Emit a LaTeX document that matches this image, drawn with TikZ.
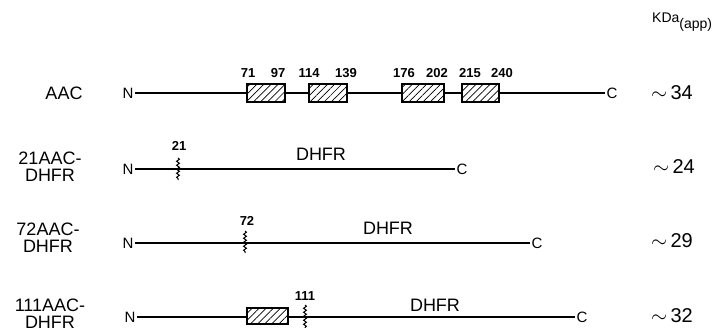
\documentclass[tikz,border=0pt]{standalone}
\usepackage{fontspec}
\setmainfont{Liberation Sans}
\usetikzlibrary{patterns.meta,decorations.pathmorphing}
\begin{document}
\begin{tikzpicture}[x=1pt,y=-1pt,
  every node/.style={inner sep=1.5pt},
  endlab/.style={font=\fontsize{15}{15}\selectfont},
  chainline/.style={line width=1.4pt},
  hbox/.style={draw, line width=1.2pt, minimum height=18pt, inner sep=0pt,
    preaction={fill=white}, pattern={Lines[angle=45,distance=5pt,line width=0.7pt]}},
  num/.style={font=\fontsize{13}{13}\selectfont\bfseries},
  dom/.style={font=\fontsize{18}{18}\selectfont},
  rowlab/.style={font=\fontsize{18}{17}\selectfont, align=center, inner sep=0pt},
  kda/.style={font=\fontsize{20}{20}\selectfont},
  brk/.style={line width=1pt, decorate, decoration={snake, amplitude=1.4pt, segment length=4pt}}
]
\useasboundingbox (0,0) rectangle (726,327);

% header
\node[font=\fontsize{14}{14}\selectfont, anchor=west, inner sep=0pt] (kdah) at (652,22) {KDa\raisebox{-6pt}{(app)}};

% ---------- row 1: AAC ----------
\node[rowlab] (l1) at (64,93) {AAC};
\node[endlab] (n1) at (128,93) {N};
\node[endlab] (c1) at (612,93) {C};
\draw[chainline] (n1.east) -- (c1.west);
\node[hbox, minimum width=38pt] (b11) at (266,93) {};
\node[hbox, minimum width=38pt] (b12) at (328,93) {};
\node[hbox, minimum width=42pt] (b13) at (423,93) {};
\node[hbox, minimum width=37pt] (b14) at (480.5,93) {};
\node[num] (p71) at (248,73) {71};
\node[num] (p97) at (278,73) {97};
\node[num] (p114) at (309,73) {114};
\node[num] (p139) at (346,73) {139};
\node[num] (p176) at (404,73) {176};
\node[num] (p202) at (437,73) {202};
\node[num] (p215) at (470,73) {215};
\node[num] (p240) at (502,73) {240};
\node[kda] (k1) at (672,93) {$\sim$\,34};

% ---------- row 2: 21AAC-DHFR ----------
\node[rowlab] (l2) at (50,167) {21AAC-\\DHFR};
\node[endlab] (n2) at (128,169) {N};
\node[endlab] (c2) at (462,169) {C};
\draw[chainline] (n2.east) -- (c2.west);
\coordinate (t2a) at (178,158);
\coordinate (t2b) at (178,180);
\draw[brk] (t2a) -- (t2b);
\node[num] (p21) at (179,146) {21};
\node[dom] (d2) at (321,154) {DHFR};
\node[kda] (k2) at (674,167) {$\sim$\,24};

% ---------- row 3: 72AAC-DHFR ----------
\node[rowlab] (l3) at (48,238) {72AAC-\\DHFR};
\node[endlab] (n3) at (128,243) {N};
\node[endlab] (c3) at (537,243) {C};
\draw[chainline] (n3.east) -- (c3.west);
\coordinate (t3a) at (245,231);
\coordinate (t3b) at (245,253);
\draw[brk] (t3a) -- (t3b);
\node[num] (p72) at (247,221) {72};
\node[dom] (d3) at (388,228) {DHFR};
\node[kda] (k3) at (672,241) {$\sim$\,29};

% ---------- row 4: 111AAC-DHFR ----------
\node[rowlab] (l4) at (50,314) {111AAC-\\DHFR};
\node[endlab] (n4) at (130,317) {N};
\node[endlab] (c4) at (582,317) {C};
\draw[chainline] (n4.east) -- (c4.west);
\node[hbox, minimum width=41pt, minimum height=16pt] (b41) at (267.5,316) {};
\coordinate (t4a) at (305,305);
\coordinate (t4b) at (305,329);
\draw[brk] (t4a) -- (t4b);
\node[num] (p111) at (305,296) {111};
\node[dom] (d4) at (435,305) {DHFR};
\node[kda] (k4) at (672,316) {$\sim$\,32};
\end{tikzpicture}
\end{document}
